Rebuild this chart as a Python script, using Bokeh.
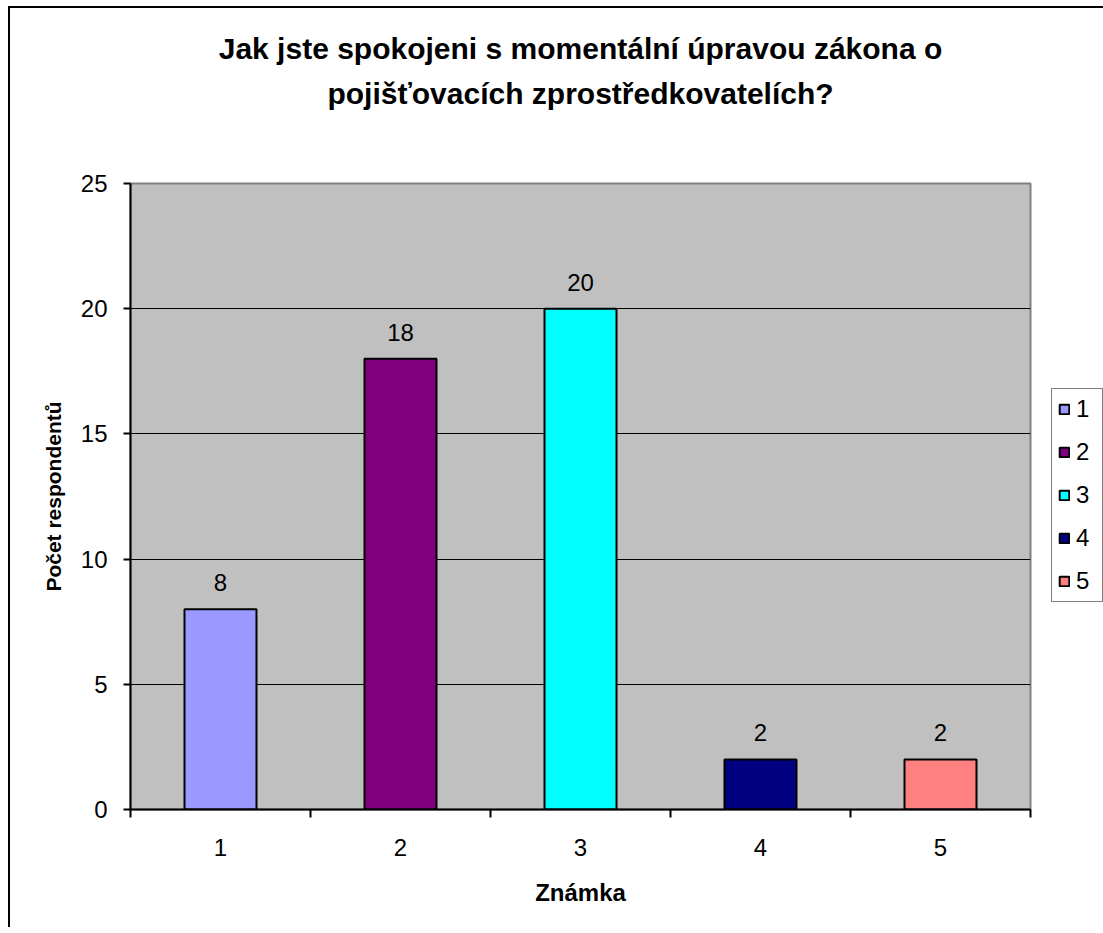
from bokeh.plotting import figure
from bokeh.models import (ColumnDataSource, Range1d, FixedTicker, Title, Legend,
                          LegendItem, LabelSet)
from bokeh.core.properties import value
from bokeh.embed import file_html
from bokeh.resources import INLINE

# ---- data ----
categories = ["1", "2", "3", "4", "5"]
counts = [8, 18, 20, 2, 2]
colors = ["#9999FF", "#800080", "#00FFFF", "#000080", "#FF8080"]
title_lines = ["Jak jste spokojeni s momentální úpravou zákona o",
               "pojišťovacích zprostředkovatelích?"]
x_title = "Známka"
y_title = "Počet respondentů"
y_ticks = [0, 5, 10, 15, 20, 25]

FONT = "Liberation Sans"

xpos = [i + 0.5 for i in range(len(categories))]
src = ColumnDataSource(dict(x=xpos, y=counts, c=colors, cat=categories,
                            lab=[str(v) for v in counts]))

p = figure(title=None, x_range=Range1d(0, len(categories)), y_range=Range1d(0, 25),
           frame_width=900, frame_height=626,
           min_border_left=120, min_border_right=73, min_border_top=175, min_border_bottom=118,
           output_backend="svg", toolbar_location=None, tools="")
p.styles = {"margin-left": "8px", "margin-top": "6px",
            "border-left": "2px solid black", "border-top": "2px solid black"}

p.background_fill_color = "#C0C0C0"
p.border_fill_color = "white"
p.outline_line_color = "#808080"
p.outline_line_width = 2

r = p.vbar(x="x", top="y", width=0.4, bottom=0, source=src, fill_color="c",
           line_color="black", line_width=2)

# data labels
labels = LabelSet(x="x", y="y", text="lab", source=src, text_align="center",
                  text_baseline="bottom", y_offset=18, text_font=value(FONT),
                  text_font_size="24px", text_color="black")
p.add_layout(labels)

# grid
p.xgrid.grid_line_color = None
p.ygrid.grid_line_color = "black"
p.ygrid.grid_line_width = 1
p.ygrid.ticker = FixedTicker(ticks=y_ticks)

# y axis
p.yaxis.ticker = FixedTicker(ticks=y_ticks)
p.yaxis.axis_line_color = "black"
p.yaxis.axis_line_width = 2
p.yaxis.major_tick_in = 0
p.yaxis.major_tick_out = 7
p.yaxis.major_tick_line_width = 2
p.yaxis.minor_tick_line_color = None
p.yaxis.major_label_standoff = 16
p.yaxis.major_label_text_font = FONT
p.yaxis.major_label_text_font_size = "24px"
p.yaxis.major_label_text_color = "black"
p.yaxis.axis_label = y_title
p.yaxis.axis_label_text_font = FONT
p.yaxis.axis_label_text_font_size = "21px"
p.yaxis.axis_label_text_font_style = "bold"
p.yaxis.axis_label_text_color = "black"
p.yaxis.axis_label_standoff = 13

# x axis: labels at centres, ticks at category boundaries (minor ticks)
p.xaxis.ticker = FixedTicker(ticks=xpos, minor_ticks=list(range(len(categories) + 1)))
p.xaxis.major_label_overrides = {x: c for x, c in zip(xpos, categories)}
p.xaxis.axis_line_color = "black"
p.xaxis.axis_line_width = 2
p.xaxis.major_tick_line_color = None
p.xaxis.major_tick_in = 0
p.xaxis.major_tick_out = 8
p.xaxis.minor_tick_in = 0
p.xaxis.minor_tick_out = 8
p.xaxis.minor_tick_line_color = "black"
p.xaxis.minor_tick_line_width = 2
p.xaxis.major_label_standoff = 21
p.xaxis.major_label_text_font = FONT
p.xaxis.major_label_text_font_size = "24px"
p.xaxis.major_label_text_color = "black"
p.xaxis.axis_label = x_title
p.xaxis.axis_label_text_font = FONT
p.xaxis.axis_label_text_font_size = "24px"
p.xaxis.axis_label_text_font_style = "bold"
p.xaxis.axis_label_text_color = "black"
p.xaxis.axis_label_standoff = 20

# titles (first added sits closest to the frame); a blank spacer keeps the gap
p.add_layout(Title(text=" ", text_font_size="1px", standoff=66), "above")
p.add_layout(Title(text=title_lines[1], align="center", text_font=FONT,
                   text_font_size="30px", text_font_style="bold",
                   text_color="black", standoff=10), "above")
p.add_layout(Title(text=title_lines[0], align="center", text_font=FONT,
                   text_font_size="30px", text_font_style="bold",
                   text_color="black", standoff=10), "above")

# legend
items = [LegendItem(label=c, renderers=[r], index=i) for i, c in enumerate(categories)]
legend = Legend(items=items, location=(21, 207), orientation="vertical",
                glyph_width=12, glyph_height=12, label_height=24, spacing=15,
                padding=6, margin=0, label_standoff=6,
                label_text_font=FONT, label_text_font_size="24px",
                label_text_color="black",
                border_line_color="black", border_line_width=1,
                background_fill_color="white", background_fill_alpha=1)
p.add_layout(legend, "right")

open("out.html", "w").write(file_html(p, INLINE))
